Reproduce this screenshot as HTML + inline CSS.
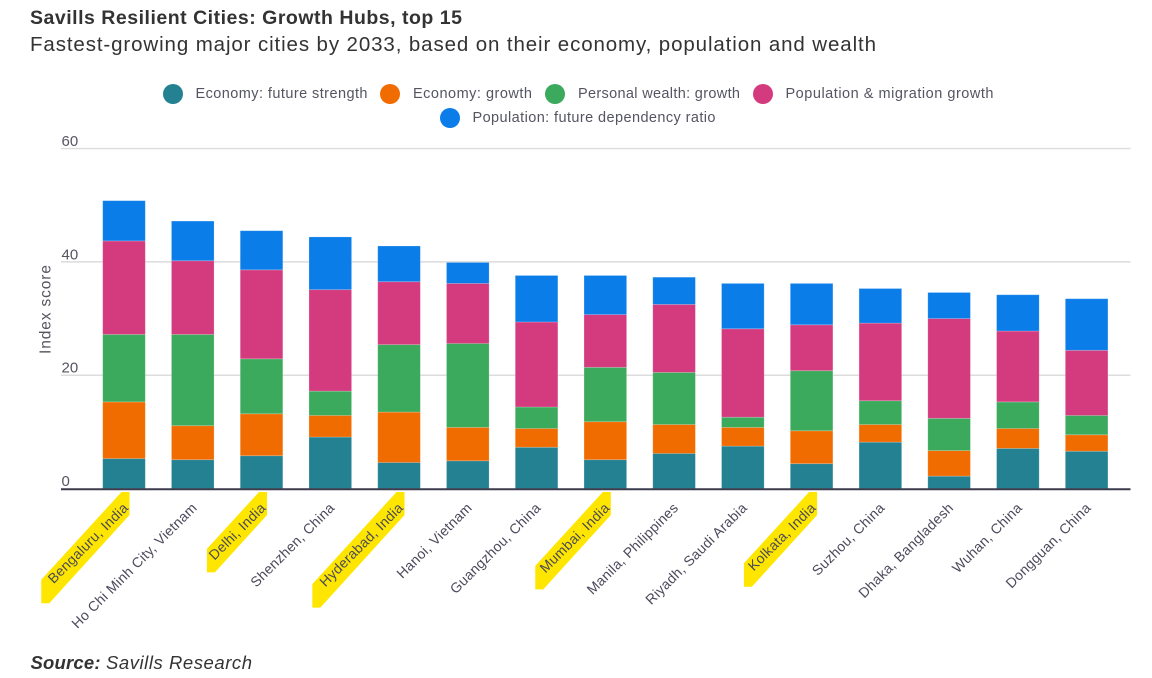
<!DOCTYPE html>
<html lang="en">
<head>
<meta charset="utf-8">
<title>Savills Resilient Cities: Growth Hubs, top 15</title>
<style>
html,body{margin:0;padding:0;background:#fff;width:1152px;height:678px;overflow:hidden}
svg{display:block;font-family:"Liberation Sans",Arial,sans-serif}
</style>
</head>
<body>
<svg id="chart" xmlns="http://www.w3.org/2000/svg" width="1152" height="678" viewBox="0 0 1152 678">
  <text x="30" y="24" font-size="19.5" font-weight="700" fill="#333333" textLength="432" lengthAdjust="spacing">Savills Resilient Cities: Growth Hubs, top 15</text>
  <text x="30" y="51" font-size="20.5" fill="#333333" textLength="846" lengthAdjust="spacing">Fastest-growing major cities by 2033, based on their economy, population and wealth</text>

  <g font-size="14.5" fill="#555562">
    <g>
      <circle cx="173" cy="94" r="10" fill="#238191"/>
      <text x="195.5" y="98" textLength="172" lengthAdjust="spacing">Economy: future strength</text>
    </g>
    <g>
      <circle cx="390" cy="94" r="10" fill="#f16c00"/>
      <text x="413" y="98" textLength="119" lengthAdjust="spacing">Economy: growth</text>
    </g>
    <g>
      <circle cx="555" cy="94" r="10" fill="#3caa5c"/>
      <text x="578" y="98" textLength="162" lengthAdjust="spacing">Personal wealth: growth</text>
    </g>
    <g>
      <circle cx="763" cy="94" r="10" fill="#d43a7e"/>
      <text x="785.5" y="98" textLength="208" lengthAdjust="spacing">Population &amp; migration growth</text>
    </g>
    <g>
      <circle cx="450" cy="118" r="10" fill="#0a7de8"/>
      <text x="472.5" y="122" textLength="243" lengthAdjust="spacing">Population: future dependency ratio</text>
    </g>
  </g>

  <g id="grid"></g>
  <g id="yticks"></g>
  <text transform="translate(50.5 309.5) rotate(-90)" text-anchor="middle" font-size="15.5" fill="#555562" textLength="89" lengthAdjust="spacing">Index score</text>
  <g id="bars"></g>
  <line x1="61" y1="489.3" x2="1130.5" y2="489.3" stroke="#3b3b4d" stroke-width="2"/>
  <g id="highlights"></g>
  <g id="xlabels"></g>

  <text x="30.5" y="669" font-size="18.5" font-style="italic" fill="#333333"><tspan font-weight="700" textLength="70" lengthAdjust="spacing">Source:</tspan><tspan x="106" textLength="146" lengthAdjust="spacing">Savills Research</tspan></text>
</svg>
<script>
const categories = ["Bengaluru, India","Ho Chi Minh City, Vietnam","Delhi, India","Shenzhen, China","Hyderabad, India","Hanoi, Vietnam","Guangzhou, China","Mumbai, India","Manila, Philippines","Riyadh, Saudi Arabia","Kolkata, India","Suzhou, China","Dhaka, Bangladesh","Wuhan, China","Dongguan, China"];
const economyStrength = [5.3,5.1,5.8,9.1,4.6,4.9,7.3,5.1,6.2,7.5,4.4,8.2,2.2,7.1,6.6];
const economyGrowth = [10.0,6.0,7.4,3.8,8.9,5.9,3.3,6.7,5.1,3.3,5.8,3.1,4.5,3.5,2.9];
const wealthGrowth = [11.9,16.1,9.7,4.3,11.9,14.8,3.8,9.6,9.2,1.8,10.6,4.2,5.7,4.7,3.4];
const populationGrowth = [16.5,13.0,15.7,17.9,11.1,10.6,15.0,9.3,12.0,15.6,8.1,13.7,17.6,12.5,11.5];
const dependencyRatio = [7.1,7.0,6.9,9.3,6.3,3.7,8.2,6.9,4.8,8.0,7.3,6.1,4.6,6.4,9.1];
const yTickValues = [0,20,40,60];
const highlightedCities = ["Bengaluru, India","Delhi, India","Hyderabad, India","Mumbai, India","Kolkata, India"];

const NS = "http://www.w3.org/2000/svg";
const stackOrder = [
  {key:"economy-future-strength", values:economyStrength, color:"#238191"},
  {key:"economy-growth", values:economyGrowth, color:"#f16c00"},
  {key:"personal-wealth-growth", values:wealthGrowth, color:"#3caa5c"},
  {key:"population-migration-growth", values:populationGrowth, color:"#d43a7e"},
  {key:"population-dependency-ratio", values:dependencyRatio, color:"#0a7de8"}
];
function yScale(v){ return 488.6 - v * 5.668; }
function xCenter(i){ return 124 + i * 68.76; }
const barWidth = 42.6;
function slug(s){ return s.toLowerCase().replace(/[^a-z0-9]+/g,"-").replace(/-$/,""); }
function make(tag, attrs, parent){
  const el = document.createElementNS(NS, tag);
  for (const k in attrs) el.setAttribute(k, attrs[k]);
  parent.appendChild(el);
  return el;
}

const grid = document.getElementById("grid");
const yticks = document.getElementById("yticks");
yTickValues.forEach(function(t){
  if (t !== 0) {
    const gl = make("line", {x1:61, x2:1130.5, y1:yScale(t), y2:yScale(t), stroke:"#dcdcdc", "stroke-width":1.4}, grid);
    
    
  }
  const lb = make("text", {x:61.5, y:yScale(t) - 2.6, "font-size":15, fill:"#555562"}, yticks);
  
  
  lb.textContent = String(t);
});

const bars = document.getElementById("bars");
categories.forEach(function(city, i){
  const g = make("g", {}, bars);
  
  
  let cum = 0;
  stackOrder.forEach(function(s){
    const y1 = yScale(cum + s.values[i]);
    const y0 = yScale(cum);
    const r = make("rect", {x:xCenter(i) - barWidth/2, y:y1, width:barWidth, height:y0 - y1, fill:s.color, stroke:"#ffffff", "stroke-opacity":0.25, "stroke-width":0.8}, g);
    
    
    cum += s.values[i];
  });
});

const xlabels = document.getElementById("xlabels");
const highlights = document.getElementById("highlights");
categories.forEach(function(city, i){
  const ax = xCenter(i) + 5.1;
  const ay = 508.7;
  const t = make("text", {transform:"translate(" + ax + " " + ay + ") rotate(-45)", "text-anchor":"end", "font-size":14, "letter-spacing":0.3, fill:"#4a4a5c"}, xlabels);
  
  
  t.textContent = city;
  if (highlightedCities.indexOf(city) >= 0) {
    const len = t.getComputedTextLength();
    const right = xCenter(i) + 5.5;
    const span = len * 0.85 - 2.5;
    const left = right - span;
    const bottom = 515 + (span - 8) * 1.1;
    const pts = [[right - 8,492],[right,492],[right,515],[left + 8,bottom],[left,bottom],[left,bottom - 23.5]];
    const p = make("polygon", {points:pts.map(function(q){return q.join(",");}).join(" "), fill:"#ffe600"}, highlights);
    
    
  }
});
</script>
</body>
</html>
